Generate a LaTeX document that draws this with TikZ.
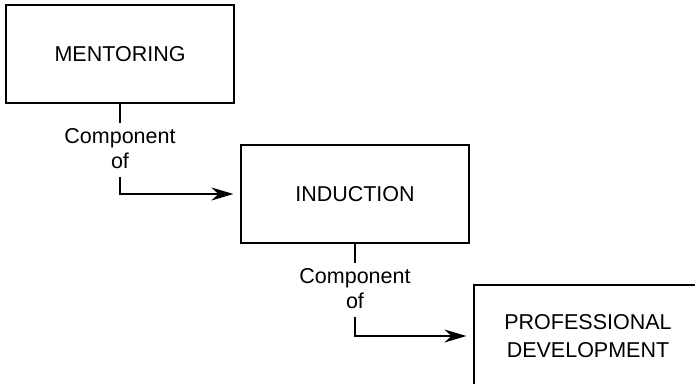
\documentclass[tikz,border=0pt]{standalone}
\usepackage{fontspec}
\setmainfont{Liberation Sans}
\usetikzlibrary{arrows.meta}

\begin{document}
\begin{tikzpicture}[x=1pt,y=-1pt]
\tikzstyle{concept}=[draw,line width=1.2pt,minimum width=228pt,minimum height=98pt,align=center,font=\fontsize{21.5}{28}\selectfont]
\tikzstyle{relation}=[align=center,inner sep=5pt,anchor=north,font=\fontsize{21.5}{25}\selectfont]
\tikzstyle{link}=[line width=1.4pt]
\tikzstyle{linkarrow}=[link,-{Stealth[length=22pt,width=13pt,inset=7pt]},shorten >=7pt]
\useasboundingbox (0,0) rectangle (695,383);
\node[concept] (mentoring) at (120,54) {MENTORING};
\node[concept] (induction) at (355,194) {INDUCTION};
\node[concept,minimum height=102pt] (profdev) at (588,336) {PROFESSIONAL\\DEVELOPMENT};
\node[relation] (compof1) at (120,123) {Component\\of};
\node[relation] (compof2) at (355,263) {Component\\of};
\draw[link] (mentoring.south) -- (compof1.north);
\draw[linkarrow] (compof1.south) ++(0,3) |- (induction.west);
\draw[link] (induction.south) -- (compof2.north);
\draw[linkarrow] (compof2.south) ++(0,3) |- (profdev.west);
\end{tikzpicture}
\end{document}
